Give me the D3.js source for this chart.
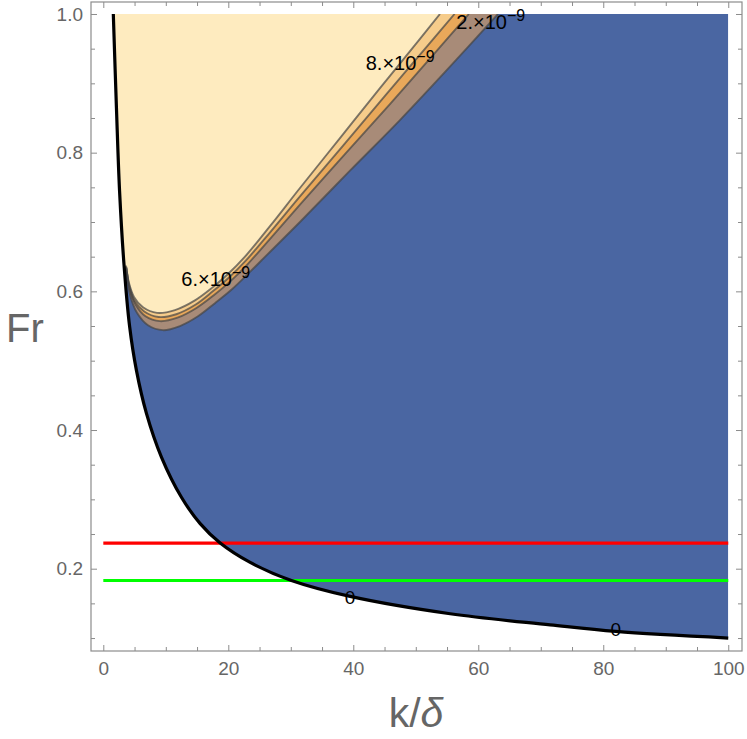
<!DOCTYPE html>
<html>
<head>
<meta charset="utf-8">
<script src="https://cdn.jsdelivr.net/npm/d3@7"></script>
<style>
body { margin: 0; background: #fff; }
text { font-family: "Liberation Sans", Arial, sans-serif; }
</style>
</head>
<body>
<div id="chart"></div>
<script>
// zero contour (black curve)
var curveK  = [1.6, 2.1, 2.6, 3.3, 4.2, 5.3, 6.9, 9.3, 12.5, 15.5, 18.7, 23.5, 30.1, 39.5, 55.5, 71.5, 82, 100];
var curveFr = [1.0, 0.865, 0.745, 0.64, 0.55, 0.486, 0.424, 0.361, 0.303, 0.265, 0.237, 0.209, 0.183, 0.160, 0.135, 0.119, 0.1095, 0.100];

// contour lines of the band, [k/delta, Fr]
var contour2 = [[3.79,0.628],[4.27,0.595],[5.39,0.569],[7.15,0.551],[9.55,0.544],[12.27,0.550],[15.15,0.564],[17.87,0.583],[20.59,0.603],[23.47,0.628],[26.35,0.654],[31.47,0.700],[39.47,0.774],[47.47,0.847],[55.47,0.924],[63.15,1.0]];
var contour4 = [[3.71,0.633],[4.19,0.604],[5.15,0.581],[6.75,0.564],[9.07,0.557],[11.87,0.562],[14.91,0.576],[17.63,0.594],[20.27,0.614],[23.07,0.639],[26.51,0.674],[31.47,0.725],[38.67,0.798],[45.87,0.870],[53.07,0.944],[58.5,1.0]];
var contour6 = [[3.67,0.635],[4.15,0.608],[5.03,0.586],[6.55,0.571],[8.83,0.563],[11.67,0.567],[14.79,0.581],[17.51,0.600],[20.11,0.620],[22.87,0.645],[26.59,0.684],[31.47,0.737],[38.27,0.809],[45.07,0.882],[51.87,0.954],[56.2,1.0]];
var contour8 = [[3.63,0.637],[4.11,0.612],[4.91,0.592],[6.35,0.577],[8.59,0.569],[11.47,0.573],[14.67,0.587],[17.39,0.605],[19.95,0.625],[22.67,0.650],[26.67,0.694],[31.47,0.749],[37.87,0.821],[44.27,0.893],[50.67,0.964],[53.87,1.0]];

var redFr = 0.237;
var greenFr = 0.183;

// contour labels: mantissa, exponent, position
var bandLabels = [
  { text: "2.\u00d710", exp: "\u22129", k: 62.0, fr: 0.988 },
  { text: "8.\u00d710", exp: "\u22129", k: 47.5, fr: 0.929 },
  { text: "6.\u00d710", exp: "\u22129", k: 18.0, fr: 0.618 }
];
var zeroLabels = [[39.5, 0.159], [82.0, 0.112]];

var xTicks = [0, 20, 40, 60, 80, 100];
var yTicks = [0.2, 0.4, 0.6, 0.8, 1.0];

var W = 747, H = 739;
var frame = { left: 91, right: 742, top: 2, bottom: 651 };

var svg = d3.select("#chart").append("svg").attr("width", W).attr("height", H);

var x = d3.scaleLinear().domain([-1.97, 102.2]).range([frame.left, frame.right]);
var y = d3.scaleLinear().domain([0.0813, 1.0173]).range([frame.bottom, frame.top]);

var curvePts = curveK.map(function (k, i) { return [k, curveFr[i]]; });

// region above the zero curve, up to Fr = 1
var region = d3.area()
  .x(function (d) { return x(d[0]); })
  .y0(y(1.0))
  .y1(function (d) { return y(d[1]); })
  .curve(d3.curveCatmullRom.alpha(0.5));

svg.append("clipPath").attr("id", "above")
  .append("path").attr("d", region(curvePts));

var plot = svg.append("g").attr("clip-path", "url(#above)");

plot.append("path").attr("d", region(curvePts)).attr("fill", "#4a66a2");

var contourLine = d3.line()
  .x(function (d) { return x(d[0]); })
  .y(function (d) { return y(d[1]); })
  .curve(d3.curveCatmullRom);

var levels = [
  { pts: contour2, fill: "#a88b78" },
  { pts: contour4, fill: "#e9a85a" },
  { pts: contour6, fill: "#f6cc8b" },
  { pts: contour8, fill: "#feebbf" }
];

// fill everything upper-left of each contour
levels.forEach(function (lv) {
  var first = lv.pts[0];
  var d = contourLine(lv.pts) +
    "L" + x(-2) + "," + y(1.0) +
    "L" + x(-2) + "," + y(first[1]) + "Z";
  plot.append("path").attr("d", d).attr("fill", lv.fill);
});

levels.forEach(function (lv) {
  plot.append("path").attr("d", contourLine(lv.pts))
    .attr("fill", "none")
    .attr("stroke", "#444")
    .attr("stroke-opacity", 0.7)
    .attr("stroke-width", 1.9);
});

// horizontal reference lines
svg.append("line")
  .attr("x1", x(0)).attr("x2", x(100))
  .attr("y1", y(redFr)).attr("y2", y(redFr))
  .attr("stroke", "#ff0000").attr("stroke-width", 3.2);
svg.append("line")
  .attr("x1", x(0)).attr("x2", x(100))
  .attr("y1", y(greenFr)).attr("y2", y(greenFr))
  .attr("stroke", "#00ff00").attr("stroke-width", 3.2);

// zero curve
var zeroLine = d3.line()
  .x(function (d) { return x(d[0]); })
  .y(function (d) { return y(d[1]); })
  .curve(d3.curveCatmullRom.alpha(0.5));
svg.append("path").attr("d", zeroLine(curvePts))
  .attr("fill", "none").attr("stroke", "#000").attr("stroke-width", 3.2);

// contour labels
bandLabels.forEach(function (lb) {
  var t = svg.append("text")
    .attr("x", x(lb.k)).attr("y", y(lb.fr))
    .attr("dy", "0.35em")
    .attr("text-anchor", "middle")
    .attr("font-size", 20)
    .attr("fill", "#000");
  t.append("tspan").text(lb.text);
  t.append("tspan").attr("dy", "-0.5em").attr("font-size", 16).text(lb.exp);
});
zeroLabels.forEach(function (p) {
  svg.append("text")
    .attr("x", x(p[0])).attr("y", y(p[1]))
    .attr("dy", "0.35em")
    .attr("text-anchor", "middle")
    .attr("font-size", 19)
    .text("0");
});

// frame + ticks
var axisColor = "#8c8c8c";
svg.append("rect")
  .attr("x", frame.left).attr("y", frame.top)
  .attr("width", frame.right - frame.left).attr("height", frame.bottom - frame.top)
  .attr("fill", "none").attr("stroke", axisColor).attr("stroke-width", 1.2);

var xMinor = d3.range(0, 101, 5).filter(function (v) { return v % 20 !== 0; });
var yMinor = d3.range(0.1, 1.0001, 0.05).filter(function (v) {
  return Math.abs(v * 5 - Math.round(v * 5)) > 1e-6;
});

function styleAxis(g) {
  g.select(".domain").remove();
  g.selectAll(".tick line").attr("stroke", axisColor);
  g.selectAll(".tick text").attr("fill", "#666").attr("font-size", 19)
    .attr("font-family", "Liberation Sans, Arial, sans-serif");
}

svg.append("g").attr("transform", "translate(0," + frame.bottom + ")")
  .call(d3.axisBottom(x).tickValues(xTicks).tickSize(-6).tickPadding(11))
  .call(styleAxis);
svg.append("g").attr("transform", "translate(0," + frame.bottom + ")")
  .call(d3.axisBottom(x).tickValues(xMinor).tickSize(-4).tickFormat(""))
  .call(styleAxis);
svg.append("g").attr("transform", "translate(0," + frame.top + ")")
  .call(d3.axisTop(x).tickValues(xTicks).tickSize(-6).tickFormat(""))
  .call(styleAxis);
svg.append("g").attr("transform", "translate(0," + frame.top + ")")
  .call(d3.axisTop(x).tickValues(xMinor).tickSize(-4).tickFormat(""))
  .call(styleAxis);

svg.append("g").attr("transform", "translate(" + frame.left + ",0)")
  .call(d3.axisLeft(y).tickValues(yTicks).tickSize(-6).tickPadding(8).tickFormat(d3.format(".1f")))
  .call(styleAxis);
svg.append("g").attr("transform", "translate(" + frame.left + ",0)")
  .call(d3.axisLeft(y).tickValues(yMinor).tickSize(-4).tickFormat(""))
  .call(styleAxis);
svg.append("g").attr("transform", "translate(" + frame.right + ",0)")
  .call(d3.axisRight(y).tickValues(yTicks).tickSize(-6).tickFormat(""))
  .call(styleAxis);
svg.append("g").attr("transform", "translate(" + frame.right + ",0)")
  .call(d3.axisRight(y).tickValues(yMinor).tickSize(-4).tickFormat(""))
  .call(styleAxis);

// axis titles
svg.append("text")
  .attr("x", 25).attr("y", 342)
  .attr("text-anchor", "middle")
  .attr("font-size", 40).attr("fill", "#666")
  .text("Fr");
var xt = svg.append("text")
  .attr("x", 416).attr("y", 727)
  .attr("text-anchor", "middle")
  .attr("font-size", 41).attr("fill", "#666");
xt.append("tspan").text("k/");
xt.append("tspan").attr("font-style", "italic").text("\u03b4");
</script>
</body>
</html>
